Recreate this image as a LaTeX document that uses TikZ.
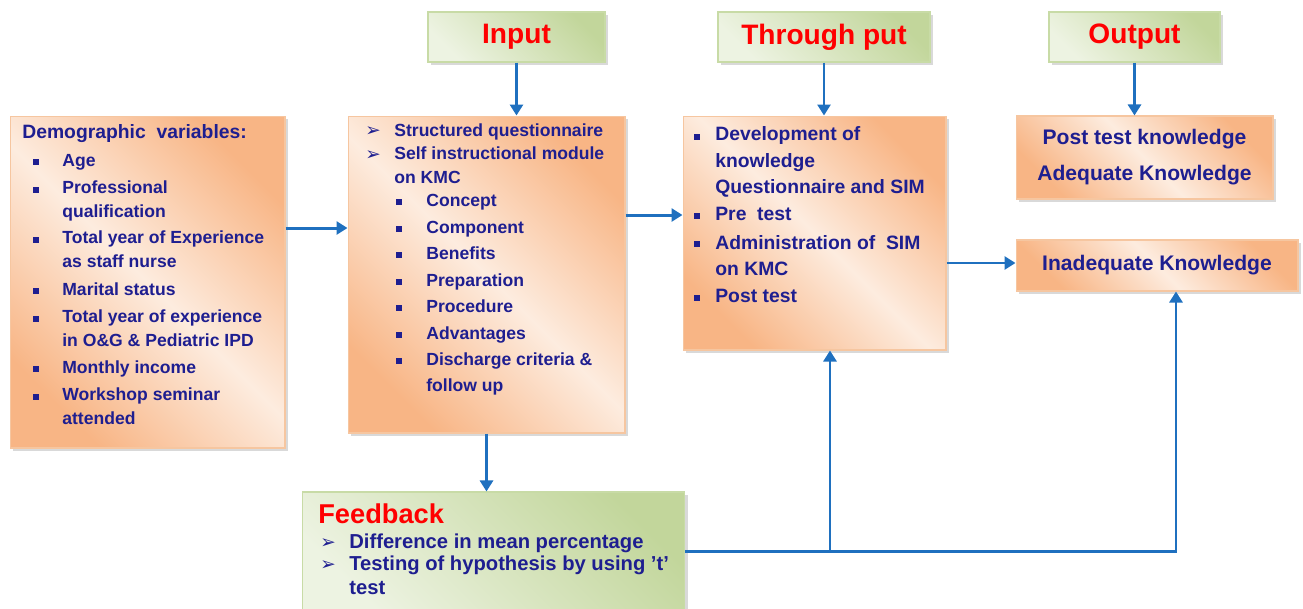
\documentclass[tikz,border=0pt]{standalone}
\usepackage{fontspec}
\setmainfont{Liberation Sans}
\newfontfamily\dejavu{DejaVu Sans}
\usepackage{tikz}
\usetikzlibrary{arrows.meta,positioning,shadows}
\definecolor{navy}{HTML}{1E1E90}
\definecolor{titlered}{HTML}{FF0000}
\definecolor{arrowblue}{HTML}{1F70BF}
\definecolor{orngdark}{HTML}{F8B585}
\definecolor{ornglight}{HTML}{FDECDF}
\definecolor{orngedge}{HTML}{F6C6A0}
\definecolor{grndark}{HTML}{C2D69B}
\definecolor{grnlight}{HTML}{EDF3E2}
\definecolor{grnedge}{HTML}{C8DBA6}
\tikzset{
  orangebox/.style={draw=orngedge,line width=0.6pt,top color=orngdark,
                    bottom color=orngdark,middle color=ornglight,shading angle=-45,
                    drop shadow={shadow xshift=0.6mm,shadow yshift=-0.6mm,opacity=0.3},
                    align=center,inner sep=0pt,text=navy,
                    font=\fontsize{12}{20.4}\selectfont\bfseries},
  greenbox/.style={draw=grnedge,line width=0.6pt,top color=grndark,
                   bottom color=grnlight,shading angle=-45,
                   drop shadow={shadow xshift=0.6mm,shadow yshift=-0.6mm,opacity=0.3},
                   inner sep=0pt,text=titlered,
                   font=\fontsize{16}{19}\selectfont\bfseries},
  itemtext/.style={anchor=base west,align=left,inner sep=0pt,text=navy,
                   font=\fontsize{10}{13.1}\selectfont\bfseries},
  sqbullet/.style={rectangle,fill=navy,minimum size=3.6pt,inner sep=0pt},
  smallbullet/.style={rectangle,fill=navy,minimum size=3pt,inner sep=0pt},
  arrbullet/.style={anchor=base,inner sep=0pt,text=navy,
                    font=\dejavu\bfseries\fontsize{10.5}{10.5}\selectfont},
  bluearr/.style={-{Triangle[length=2.2mm,width=2.6mm]},line width=1.7pt,
                  draw=arrowblue}
}

\begin{document}
\begin{tikzpicture}[x=0.02cm,y=-0.02cm]
    \useasboundingbox (0,0) rectangle (1303,609);

    % boxes
    \node[orangebox,minimum width=5.5cm,minimum height=6.64cm] (demo) at (147.5,282) {};
    \node[greenbox,minimum width=3.54cm,minimum height=1cm] (inputhead) at (516.5,37) {Input};
    \node[orangebox,minimum width=5.54cm,minimum height=6.34cm] (inputbox) at (486.5,274.5) {};
    \node[greenbox,minimum width=4.24cm,minimum height=1cm] (throughhead) at (824,37) {Through put};
    \node[orangebox,minimum width=5.26cm,minimum height=4.68cm] (throughbox) at (814.5,233) {};
    \node[greenbox,minimum width=3.42cm,minimum height=1cm] (outputhead) at (1134.5,37) {Output};
    \node[orangebox,minimum width=5.14cm,minimum height=1.66cm] (posttest) at (1144.5,157.5)
      {Post test knowledge\\Adequate Knowledge};
    \node[orangebox,minimum width=5.64cm,minimum height=1.02cm] (inadequate) at (1157,265.5)
      {Inadequate Knowledge};
    \node[greenbox,minimum width=7.66cm,minimum height=2.36cm] (feedback) at (493.5,551) {};

    % demographic variables (bullet baseline / last line baseline)
    \node[itemtext,font=\fontsize{11}{13}\selectfont\bfseries] (demohead) at (22,138)
      {Demographic\ \ variables:};
    \foreach \yb/\y/\txt [count=\i] in {166/166/Age, 194/217/{Professional\\qualification},
        244/267/{Total year of Experience\\as staff nurse}, 295/295/Marital status,
        323/346/{Total year of experience\\in O\&G \& Pediatric IPD}, 373/373/Monthly income,
        401/424/{Workshop seminar\\attended}}{
      \node[sqbullet] (demob\i) at (36,\yb-4) {};
      \node[itemtext] (demoitem\i) at (62,\y) {\txt};
    }

    % input
    \node[arrbullet] (inarr1) at (373,136) {➢};
    \node[itemtext] (initem1) at (394,136) {Structured questionnaire};
    \node[arrbullet] (inarr2) at (373,160) {➢};
    \node[itemtext] (initem2) at (394,183) {Self instructional module\\on KMC};
    \foreach \yb/\y/\txt [count=\i] in {206/206/Concept, 233/233/Component, 259/259/Benefits,
        286/286/Preparation, 312/312/Procedure, 339/339/Advantages,
        365/391/{Discharge criteria \&\\[1.7pt]follow up}}{
      \node[smallbullet] (kmcb\i) at (399,\yb-4) {};
      \node[itemtext] (kmcitem\i) at (426,\y) {\txt};
    }

    % through put
    \foreach \yb/\y/\txt [count=\i] in {141/193/{Development of\\knowledge\\Questionnaire and SIM},
        220/220/{Pre\ \ test}, 248/275/{Administration of\ \ SIM\\on KMC}, 302/302/Post test}{
      \node[sqbullet] (thb\i) at (697,\yb-4) {};
      \node[itemtext,font=\fontsize{11}{14.8}\selectfont\bfseries] (thitem\i) at (715,\y) {\txt};
    }

    % feedback
    \node[itemtext,text=titlered,font=\fontsize{15.5}{18}\selectfont\bfseries] (fbhead) at (318,523)
      {Feedback};
    \node[arrbullet] (fbarr1) at (328,548) {➢};
    \node[itemtext,font=\fontsize{11.5}{13.6}\selectfont\bfseries] (fbitem1) at (349,548)
      {Difference in mean percentage};
    \node[arrbullet] (fbarr2) at (328,570) {➢};
    \node[itemtext,font=\fontsize{11.5}{13.6}\selectfont\bfseries] (fbitem2) at (349,594)
      {Testing of hypothesis by using 't'\\test};

    % connectors
    \coordinate (toInput) at ([yshift=1.08cm]demo.east);
    \coordinate (toThrough) at ([yshift=1.19cm]inputbox.east);
    \coordinate (toInad) at ([yshift=-0.6cm]throughbox.east);
    \coordinate (upThrough) at ([xshift=0.31cm]throughbox.south);
    \coordinate (upInad) at ([xshift=0.38cm]inadequate.south);
    \draw[bluearr] (toInput) -- (toInput -| inputbox.west);
    \draw[bluearr] (inputhead.south) -- (inputhead.south |- inputbox.north);
    \draw[bluearr] (toThrough) -- (toThrough -| throughbox.west);
    \draw[bluearr] (throughhead.south) -- (throughhead.south |- throughbox.north);
    \draw[bluearr] (outputhead.south) -- (outputhead.south |- posttest.north);
    \draw[bluearr] (toInad) -- (toInad -| inadequate.west);
    \draw[bluearr] (inputbox.south) -- (inputbox.south |- feedback.north);
    \draw[bluearr] (feedback.east) -| (upInad);
    \draw[bluearr] (feedback.east -| upThrough) -- (upThrough);
  \end{tikzpicture}
\end{document}
